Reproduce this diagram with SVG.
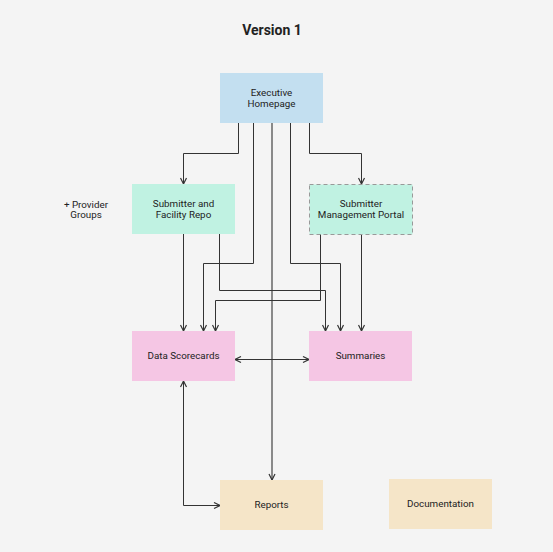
<svg xmlns="http://www.w3.org/2000/svg" width="553" height="552" viewBox="0 0 553 552">
<style>
text{font-family:Roboto,"Liberation Sans",sans-serif;fill:#222;text-anchor:middle}
.n{font-size:9.8px}
.c{fill:none;stroke:#333;stroke-width:1}
.g{fill:none;stroke:#666;stroke-width:1.5}
</style>
<defs>
<marker id="a" viewBox="0 0 8 8" refX="7" refY="4" markerWidth="8" markerHeight="8" markerUnits="userSpaceOnUse" orient="auto-start-reverse">
<path d="M1,1 L7,4 L1,7" fill="none" stroke="#333" stroke-width="1.2"/>
</marker>
</defs>
<rect width="553" height="552" fill="#f4f4f4"/>
<text x="272" y="35" style="font-size:14px;font-weight:bold">Version 1</text>
<text x="86" y="208" class="n">+ Provider</text>
<text x="86" y="218" class="n">Groups</text>
<g id="connectors">
<path class="c" d="M238.5,123 V153.5 H183.5 V184" marker-end="url(#a)"/>
<path class="c" d="M253.5,123 V263.5 H203.5 V331" marker-end="url(#a)"/>
<path class="g" d="M272,123 V480" marker-end="url(#a)"/>
<path class="c" d="M290.5,123 V263.5 H340.5 V331" marker-end="url(#a)"/>
<path class="c" d="M309.5,123 V153.5 H361.5 V184" marker-end="url(#a)"/>
<path class="c" d="M183.5,234 V331" marker-end="url(#a)"/>
<path class="c" d="M219.5,234 V290.5 H325.5 V331" marker-end="url(#a)"/>
<path class="c" d="M320.5,234 V300.5 H215.5 V331" marker-end="url(#a)"/>
<path class="c" d="M361.5,234 V331" marker-end="url(#a)"/>
<path class="c" d="M235,359.5 H309" marker-start="url(#a)" marker-end="url(#a)"/>
<path class="c" d="M183.5,381 V505.5 H220" marker-start="url(#a)" marker-end="url(#a)"/>
</g>
<g id="executive-homepage">
<rect x="220" y="73" width="103" height="50" fill="#c3dff0"/>
<text x="271.5" y="96" class="n">Executive</text>
<text x="271.5" y="106.5" class="n">Homepage</text>
</g>
<g id="submitter-facility-repo">
<rect x="132" y="184" width="103" height="50" fill="#c0f2e2"/>
<text x="183.5" y="207" class="n">Submitter and</text>
<text x="183.5" y="218" class="n">Facility Repo</text>
</g>
<g id="submitter-management-portal">
<rect x="309.5" y="184.5" width="103" height="50" fill="#c0f2e2" stroke="#999" stroke-dasharray="4,3"/>
<text x="361" y="207" class="n">Submitter</text>
<text x="361" y="218" class="n">Management Portal</text>
</g>
<g id="data-scorecards">
<rect x="132" y="331" width="103" height="50" fill="#f5c6e4"/>
<text x="183.5" y="359" class="n">Data Scorecards</text>
</g>
<g id="summaries">
<rect x="309" y="331" width="103" height="50" fill="#f5c6e4"/>
<text x="360.5" y="359" class="n">Summaries</text>
</g>
<g id="reports">
<rect x="220" y="480" width="103" height="50" fill="#f5e5c8"/>
<text x="271.5" y="508" class="n">Reports</text>
</g>
<g id="documentation">
<rect x="389" y="479" width="103" height="50" fill="#f5e5c8"/>
<text x="440.5" y="507" class="n">Documentation</text>
</g>
</svg>
